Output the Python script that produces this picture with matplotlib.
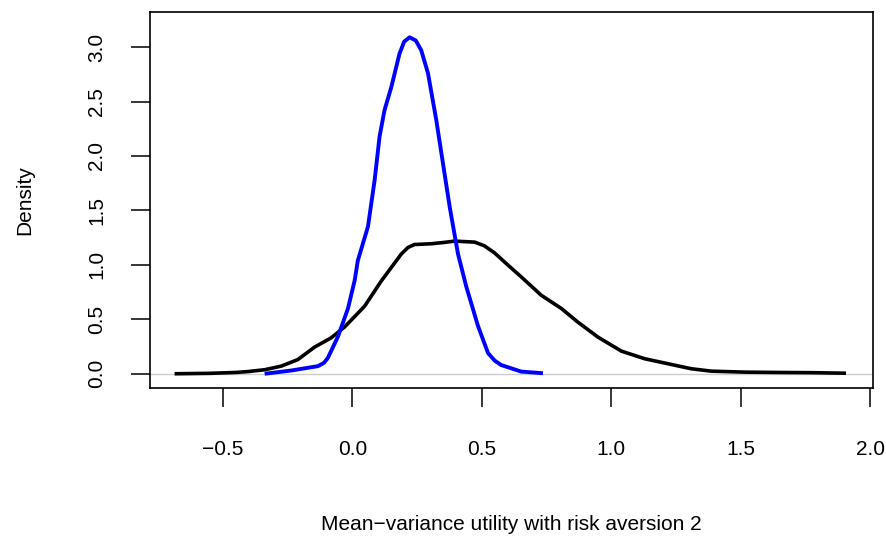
import matplotlib
matplotlib.use("Agg")
import matplotlib.pyplot as plt

# Black density curve
black_x = [-0.687, -0.55, -0.45, -0.404, -0.339, -0.275, -0.211, -0.146, -0.082, -0.030,
           0.047, 0.111, 0.189, 0.215, 0.240, 0.305, 0.350, 0.395, 0.472, 0.510, 0.549,
           0.600, 0.652, 0.730, 0.807, 0.871, 0.949, 1.039, 1.129, 1.219, 1.309,
           1.386, 1.515, 1.644, 1.773, 1.907]
black_y = [0.0, 0.004, 0.012, 0.02, 0.037, 0.07, 0.13, 0.245, 0.33, 0.43,
           0.62, 0.85, 1.10, 1.16, 1.187, 1.194, 1.205, 1.218, 1.209, 1.175, 1.11,
           1.00, 0.89, 0.72, 0.60, 0.474, 0.336, 0.208, 0.138, 0.092, 0.046,
           0.024, 0.015, 0.012, 0.010, 0.005]

# Blue density curve
blue_x = [-0.339, -0.236, -0.133, -0.110, -0.095, -0.056, -0.017, 0.009, 0.021, 0.060,
          0.086, 0.105, 0.124, 0.150, 0.182, 0.200, 0.221, 0.245, 0.266, 0.292,
          0.324, 0.350, 0.376, 0.408, 0.440, 0.485, 0.524, 0.550, 0.575, 0.652, 0.736]
blue_y = [0.0, 0.03, 0.07, 0.10, 0.145, 0.34, 0.60, 0.86, 1.04, 1.35,
          1.78, 2.18, 2.42, 2.63, 2.94, 3.05, 3.09, 3.06, 2.97, 2.76,
          2.33, 1.93, 1.53, 1.10, 0.80, 0.44, 0.19, 0.12, 0.08, 0.02, 0.005]

x_ticks = [-0.5, 0.0, 0.5, 1.0, 1.5, 2.0]
x_tick_labels = ["\u22120.5", "0.0", "0.5", "1.0", "1.5", "2.0"]
y_ticks = [0.0, 0.5, 1.0, 1.5, 2.0, 2.5, 3.0]
y_tick_labels = ["0.0", "0.5", "1.0", "1.5", "2.0", "2.5", "3.0"]

x_label = "Mean\u2212variance utility with risk aversion 2"
y_label = "Density"

plt.rcParams['font.family'] = ['Liberation Sans', 'DejaVu Sans']

fig = plt.figure(figsize=(8.87, 5.37), dpi=100)
ax = fig.add_axes([150.5 / 887, 1 - 387.7 / 537, (872.7 - 150.5) / 887, (387.7 - 11.7) / 537])

ax.axhline(0, color="#cccccc", linewidth=1.0, zorder=1)
ax.plot(black_x, black_y, color="black", linewidth=2.6, solid_joinstyle="round",
        solid_capstyle="butt", zorder=2)
ax.plot(blue_x, blue_y, color="blue", linewidth=2.8, solid_joinstyle="round",
        solid_capstyle="butt", zorder=3)

ax.set_xlim(-0.780, 2.010)
ax.set_ylim(-0.128, 3.325)

ax.set_xticks(x_ticks)
ax.set_xticklabels(x_tick_labels)
ax.set_yticks(y_ticks)
ax.set_yticklabels(y_tick_labels, rotation=90, va="center")

ax.tick_params(axis="both", direction="out", length=13.5, width=1.1, labelsize=15,
               color="black")
ax.tick_params(axis="x", pad=24.5)
ax.tick_params(axis="y", pad=18.5)

for s in ax.spines.values():
    s.set_linewidth(1.2)
    s.set_color("black")

ax.set_xlabel(x_label, fontsize=15, labelpad=40)
ax.set_ylabel(y_label, fontsize=15, labelpad=38)

fig.savefig("out.png", dpi=100)
